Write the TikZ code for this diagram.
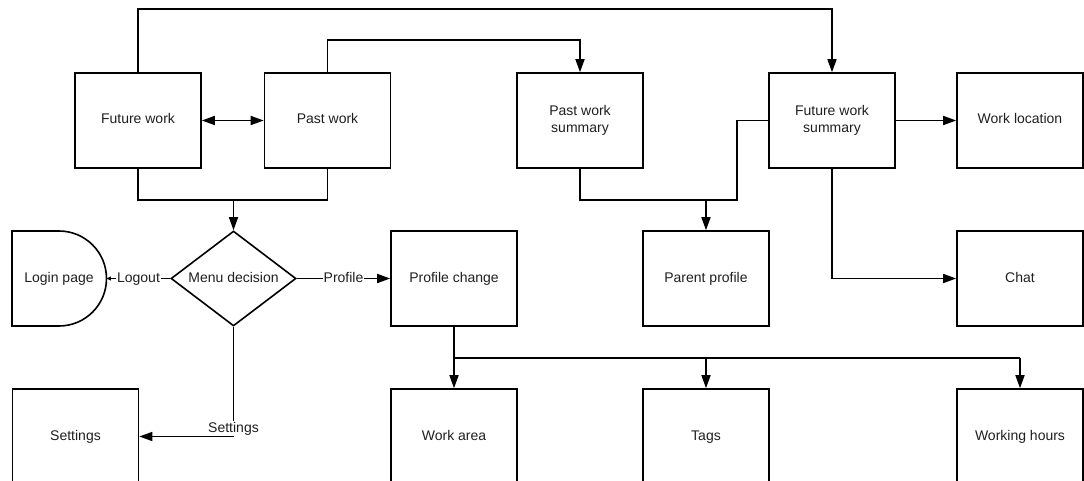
\documentclass[tikz,border=0pt]{standalone}
\usepackage{fontspec}
\setmainfont{Liberation Sans}
\usetikzlibrary{arrows.meta,shapes.geometric}
\begin{document}
\begin{tikzpicture}[x=1pt,y=-1pt,
  line width=1.6pt,
  txt/.style={font=\fontsize{14}{17.5}\selectfont, text=black!88},
  boxbase/.style={txt, draw, minimum width=126pt, minimum height=95pt, inner sep=2pt, align=center},
  box/.style={boxbase, text height=10pt, text depth=3pt},
  box2/.style={boxbase},
  arr/.style={-{Triangle[length=13pt,width=9pt]}},
  smallarr/.style={-{Triangle[length=4pt,width=4pt]}},
  twoarr/.style={{Triangle[length=13pt,width=9pt]}-{Triangle[length=13pt,width=9pt]}},
  lbl/.style={txt, fill=white, inner sep=1pt, text height=10pt, text depth=3pt}
]
\useasboundingbox (0,0) rectangle (1084,481);
\clip (0,0) rectangle (1084,481);

% top row
\node[box]  (fw)  at (138,120.5)  {Future work};
\node[box]  (pw)  at (327.5,120.5) {Past work};
\node[box2] (pws) at (580,120.5)  {Past work\\summary};
\node[box2] (fws) at (832,120.5)  {Future work\\summary};
\node[box]  (wl)  at (1020,120.5) {Work location};

% middle row
\draw (12,231) -- (59,231) arc[start angle=-90,end angle=90,radius=47.5] -- (12,326) -- cycle;
\node[txt, minimum width=94pt, minimum height=95pt, inner sep=0pt, text height=10pt, text depth=3pt] (login) at (59,278.5) {Login page};
\node[txt, draw, diamond, aspect=1.3, minimum width=125pt, minimum height=95pt, inner sep=0pt, text height=10pt, text depth=3pt] (menu) at (233.5,278.5) {Menu decision};
\node[box] (pc)   at (454,278.5)  {Profile change};
\node[box] (pp)   at (706,278.5)  {Parent profile};
\node[box] (chat) at (1020,278.5) {Chat};

% bottom row
\node[box] (set)  at (75.5,436.5) {Settings};
\node[box] (wa)   at (454,436.5)  {Work area};
\node[box] (tags) at (706,436.5)  {Tags};
\node[box] (wh)   at (1020,436.5) {Working hours};

% connectors
\draw[arr] (fw.north) -- ++(0,-63) -| (fws.north);
\draw[arr] (pw.north) -- ++(0,-32) -| (pws.north);
\draw[twoarr] (fw.east) -- (pw.west);

\draw (fw.south) -- ++(0,31) coordinate (fwb) -| (pw.south);
\draw[arr] (fwb -| menu.north) -- (menu.north);

\draw (pws.south) -- ++(0,31) coordinate (pwsb) -- ++(157,0) |- (fws.west);
\draw[arr] (pwsb -| pp.north) -- (pp.north);

\draw[arr] (fws.east) -- (wl.west);
\draw[arr] (fws.south) |- (chat.west);

\draw[smallarr] (menu.west) -- node[lbl] {Logout} (login.east);
\draw[arr] (menu.east) -- node[lbl] {Profile} (pc.west);
\draw[arr] (menu.south) |- node[lbl, pos=0.5, yshift=8pt] {Settings} (set.east);

\draw (pc.south) -- ++(0,31) coordinate (pcb) -- (pcb -| wh.north);
\draw[arr] (pcb) -- (wa.north);
\draw[arr] (pcb -| tags.north) -- (tags.north);
\draw[arr] (pcb -| wh.north) -- (wh.north);
\end{tikzpicture}
\end{document}
